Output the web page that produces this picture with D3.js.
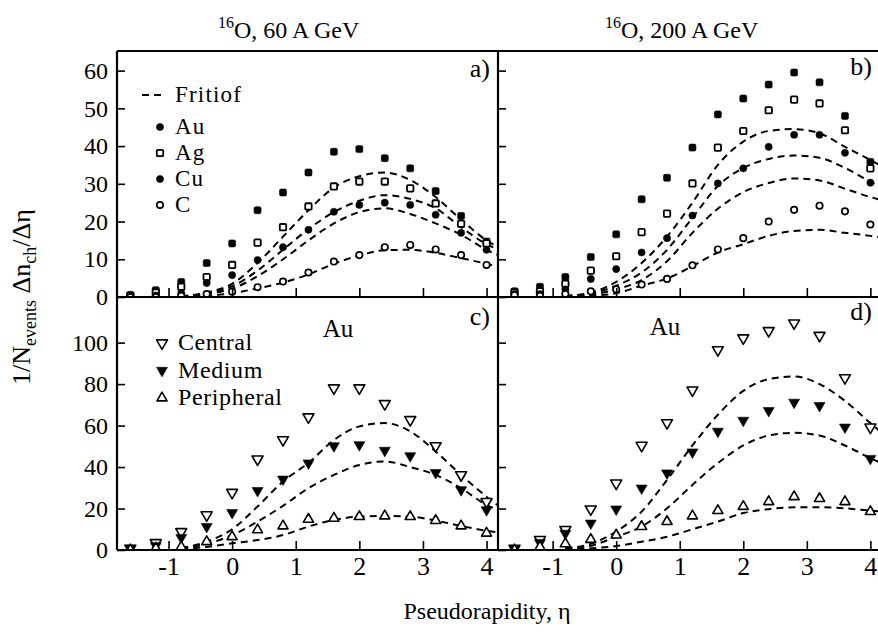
<!DOCTYPE html>
<html>
<head>
<meta charset="utf-8">
<script src="https://cdn.jsdelivr.net/npm/d3@7"></script>
<style>
  body { margin: 0; background: #fff; }
  svg { display: block; font-family: "Liberation Serif", "Times New Roman", serif; }
</style>
</head>
<body>
<svg id="chart" width="878" height="634"></svg>
<script>
// pseudorapidity bins of the measured points
const ETA = [-1.6, -1.2, -0.8, -0.4, 0, 0.4, 0.8, 1.2, 1.6, 2.0, 2.4, 2.8, 3.2, 3.6, 4.0];
// grid the Fritiof curves were read on
const FRIT_ETA = [-0.8, -0.4, 0, 0.4, 0.8, 1.2, 1.6, 2.0, 2.4, 2.8, 3.2, 3.6, 4.0, 4.2];

// a) 16O 60 A GeV, targets
const aAu = [0.5, 1.8, 4, 9, 14.2, 23, 27.7, 33, 38.5, 39.2, 36.8, 34.1, 28.1, 21.5, 14.7];
const aAg = [0.4, 1.2, 2.7, 5.3, 8.5, 14.4, 18.5, 24, 29.3, 30.6, 30.6, 28.8, 24.8, 19.4, 14.2];
const aCu = [0, 0.4, 1, 3.7, 5.8, 9.8, 13.2, 17.8, 22.6, 24.4, 25, 24.4, 21.8, 17, 12.5];
const aC  = [0, 0, 0.3, 0.8, 1.4, 2.6, 4.1, 6.5, 9.4, 11.1, 13.2, 13.8, 12.6, 11.1, 8.5];
const aFrit = [
  [0.2, 1.2, 3.5, 9, 16, 23, 29, 32, 33, 31, 26.5, 20.5, 15, 13],
  [0.1, 1, 2.8, 7, 12.5, 18, 22.5, 25.5, 27, 26, 23.5, 18.5, 14, 12.5],
  [0.1, 0.8, 2.2, 5.5, 10, 15, 19.5, 22.5, 23.5, 22, 19.5, 16.5, 12.5, 11],
  [0, 0.3, 1, 2.3, 3.8, 6, 8.8, 11, 12.4, 12.5, 11.7, 10.3, 8.8, 8]
];

// b) 16O 200 A GeV, targets
const bAu = [1.5, 2.7, 5.3, 10.6, 16.6, 25.9, 31.6, 39.6, 48.4, 52.6, 56.3, 59.5, 56.9, 48, 35.8];
const bAg = [1.2, 1.5, 3.5, 7, 10.8, 17.2, 22.1, 30.1, 39.6, 44, 49.5, 52.3, 51.3, 44.2, 34.1];
const bCu = [0.8, 0.8, 2, 4.8, 7.4, 11.8, 15.6, 21.6, 30.1, 34.1, 39.8, 43, 43, 38.2, 30.3];
const bC  = [0.5, 0.3, 0.8, 1.5, 2, 3.3, 4.8, 8.4, 12.6, 15.6, 20, 23.1, 24.2, 22.7, 19.2];
const bFrit = [
  [0.3, 1.2, 4, 9, 16, 25, 35, 41.2, 44, 44.5, 43.4, 39.8, 36.3, 34.5],
  [0.2, 0.9, 3, 6.5, 12.5, 21, 29.4, 34.2, 36.6, 37.5, 36.9, 34.2, 30.6, 29],
  [0.1, 0.6, 2, 4.5, 9.5, 17, 23.4, 27.8, 30.2, 31.4, 30.9, 28.7, 26.5, 25.6],
  [0, 0.3, 1, 3, 4.9, 8.2, 11.8, 14, 16.2, 17.5, 17.8, 17, 16.2, 15.7]
];

// c) Au target at 60 A GeV, centrality classes
const cCentral = [0.8, 3.5, 8.8, 16.9, 27.7, 43.8, 53.1, 64.1, 78.1, 78.1, 70.5, 62.8, 50.2, 36.2, 23.3];
const cMedium  = [0.8, 2, 6, 11.3, 18, 28.6, 34.1, 41.9, 50.2, 50.7, 48, 45.4, 37.3, 29, 19.3];
const cPeriph  = [0, 0.8, 1.5, 4, 6.4, 9.7, 11.6, 14.8, 15.3, 16.1, 16.4, 16.1, 14.2, 11.6, 8.1];
const cFrit = [
  [1, 4, 10, 21, 33, 42, 53, 59.6, 61.2, 57.2, 47.5, 36.2, 25.7, 21],
  [0.8, 3, 7.2, 13.7, 21.3, 29.8, 36.2, 41, 42.7, 40, 36.2, 29.8, 21.7, 19],
  [0.3, 1.5, 3.2, 4.8, 7.2, 11.3, 14.5, 16.1, 16.4, 16.1, 14.2, 11.6, 9.3, 8.5]
];

// d) Au target at 200 A GeV, centrality classes
const dCentral = [0.8, 5, 9.8, 19.7, 32.2, 50.4, 61.3, 77.1, 96.5, 102.2, 105.7, 109.4, 103.4, 83, 59.2];
const dMedium  = [0.5, 3.5, 8, 12.9, 19.7, 29.8, 37.1, 47.2, 57.2, 62.5, 67.2, 71.2, 69.6, 59.2, 44.1];
const dPeriph  = [0, 1.5, 3, 5.1, 7.2, 11.3, 13.7, 16.4, 19, 21, 23.3, 25.7, 24.8, 23.3, 18.5];
const dFrit = [
  [0.8, 3, 8.9, 18.5, 33.8, 50.4, 65.2, 76.7, 82.4, 83.7, 80, 71.9, 61.2, 56],
  [0.5, 2, 6.4, 11.3, 20.1, 31.4, 41.9, 50.4, 55.2, 56.5, 55.2, 50.4, 44.3, 41.5],
  [0.2, 0.8, 1.9, 4, 6.4, 10, 13.7, 17.8, 19.7, 20.6, 20.6, 20.1, 19, 18.5]
];

const X_TICKS = [-1, 0, 1, 2, 3, 4];
const Y_TICKS_TOP = [0, 10, 20, 30, 40, 50, 60];
const Y_TICKS_BOT = [0, 20, 40, 60, 80, 100];

const targetLegend = [['Au', 'fsq'], ['Ag', 'osq'], ['Cu', 'fci'], ['C', 'oci']];
const centLegend = [['Central', 'otd'], ['Medium', 'ftd'], ['Peripheral', 'otu']];

const svg = d3.select('#chart');

const xLeft = d3.scaleLinear().domain([-1.81, 4.18]).range([117, 498]);
const xRight = d3.scaleLinear().domain([-1.86, 4.12]).range([498, 878]);
const yTop = d3.scaleLinear().domain([0, 65.2]).range([297, 51]);
const yBot = d3.scaleLinear().domain([0, 122]).range([550, 297]);

const panels = [
  { id: 'a', x: xLeft, y: yTop, yTicks: Y_TICKS_TOP, xLabels: false, yLabels: true,
    series: [[aAu, 'fsq'], [aAg, 'osq'], [aCu, 'fci'], [aC, 'oci']], frit: aFrit },
  { id: 'b', x: xRight, y: yTop, yTicks: Y_TICKS_TOP, xLabels: false, yLabels: false,
    series: [[bAu, 'fsq'], [bAg, 'osq'], [bCu, 'fci'], [bC, 'oci']], frit: bFrit },
  { id: 'c', x: xLeft, y: yBot, yTicks: Y_TICKS_BOT, xLabels: true, yLabels: true,
    series: [[cCentral, 'otd'], [cMedium, 'ftd'], [cPeriph, 'otu']], frit: cFrit },
  { id: 'd', x: xRight, y: yBot, yTicks: Y_TICKS_BOT, xLabels: true, yLabels: false,
    series: [[dCentral, 'otd'], [dMedium, 'ftd'], [dPeriph, 'otu']], frit: dFrit }
];

function drawMarker(sel, kind) {
  if (kind === 'fsq' || kind === 'osq') {
    const s = kind === 'fsq' ? 7 : 6.4;
    sel.append('rect')
      .attr('x', -s / 2).attr('y', -s / 2).attr('width', s).attr('height', s)
      .attr('rx', kind === 'fsq' ? 1.6 : 1)
      .attr('fill', kind === 'fsq' ? '#000' : '#fff')
      .attr('stroke', '#000').attr('stroke-width', kind === 'fsq' ? 0.6 : 1.8);
    return;
  }
  if (kind === 'fci' || kind === 'oci') {
    sel.append('circle').attr('r', kind === 'fci' ? 3.6 : 3.2)
      .attr('fill', kind === 'fci' ? '#000' : '#fff')
      .attr('stroke', '#000').attr('stroke-width', kind === 'fci' ? 0.5 : 1.7);
    return;
  }
  const tri = d3.symbol().type(d3.symbolTriangle).size(kind === 'otu' ? 44 : 52)();
  sel.append('path').attr('d', tri)
    .attr('transform', kind === 'otu' ? null : 'rotate(180)')
    .attr('fill', kind === 'ftd' ? '#000' : '#fff')
    .attr('stroke', '#000').attr('stroke-width', kind === 'ftd' ? 0.6 : 1.6)
    .attr('stroke-linejoin', 'round');
}

panels.forEach(p => {
  const [x0, x1] = p.x.range();
  const [y0, y1] = p.y.range();
  const g = svg.append('g').attr('class', 'panel-' + p.id);

  g.append('clipPath').attr('id', 'clip-' + p.id)
    .append('rect').attr('x', x0).attr('y', y1).attr('width', x1 - x0).attr('height', y0 - y1);

  const body = g.append('g').attr('clip-path', `url(#clip-${p.id})`);

  const line = d3.line()
    .x((d, i) => p.x(FRIT_ETA[i]))
    .y(d => p.y(d))
    .curve(d3.curveMonotoneX);

  body.selectAll('path.frit').data(p.frit).enter().append('path')
    .attr('class', 'frit')
    .attr('d', line)
    .attr('fill', 'none').attr('stroke', '#000')
    .attr('stroke-width', 2).attr('stroke-dasharray', '7,5');

  p.series.forEach(([vals, kind]) => {
    body.append('g').selectAll('g').data(vals).enter().append('g')
      .attr('transform', (d, i) => `translate(${p.x(ETA[i])},${p.y(d)})`)
      .each(function () { drawMarker(d3.select(this), kind); });
  });

  // x axis, ticks pointing up into the plot
  const xAxis = d3.axisBottom(p.x).tickValues(X_TICKS).tickSize(-9).tickSizeOuter(0).tickPadding(7)
    .tickFormat(d => p.xLabels ? (d < 0 ? '-' + Math.abs(d) : String(d)) : '');
  const gx = g.append('g').attr('transform', `translate(0,${y0})`).call(xAxis);
  gx.select('.domain').remove();
  gx.selectAll('line').attr('stroke-width', 1.6);
  gx.selectAll('text').attr('font-size', 26).attr('fill', '#000')
    .attr('font-family', '"Liberation Serif", serif');

  // y axis, ticks pointing right into the plot
  const yAxis = d3.axisLeft(p.y).tickValues(p.yTicks).tickSize(-8).tickSizeOuter(0).tickPadding(9)
    .tickFormat(d => p.yLabels ? String(d) : '');
  const gy = g.append('g').attr('transform', `translate(${x0},0)`).call(yAxis);
  gy.select('.domain').remove();
  gy.selectAll('line').attr('stroke-width', 1.6);
  gy.selectAll('text').attr('font-size', 24).attr('fill', '#000')
    .attr('font-family', '"Liberation Serif", serif');
});

// frame lines
const frame = svg.append('g').attr('stroke', '#000').attr('stroke-width', 2.2).attr('fill', 'none');
frame.append('line').attr('x1', 117).attr('x2', 878).attr('y1', 51).attr('y2', 51);
frame.append('line').attr('x1', 117).attr('x2', 878).attr('y1', 297).attr('y2', 297);
frame.append('line').attr('x1', 117).attr('x2', 878).attr('y1', 550).attr('y2', 550);
frame.append('line').attr('x1', 117).attr('x2', 117).attr('y1', 51).attr('y2', 550);
frame.append('line').attr('x1', 498).attr('x2', 498).attr('y1', 51).attr('y2', 550);

// panel tags
const tags = [['a)', 490, 77], ['b)', 872, 75], ['c)', 490, 325], ['d)', 872, 320]];
svg.append('g').selectAll('text').data(tags).enter().append('text')
  .attr('x', d => d[1]).attr('y', d => d[2])
  .attr('text-anchor', 'end').attr('font-size', 26)
  .text(d => d[0]);

// "Au" labels of the lower panels
svg.append('text').attr('x', 338).attr('y', 337).attr('text-anchor', 'middle').attr('font-size', 25).text('Au');
svg.append('text').attr('x', 665).attr('y', 335).attr('text-anchor', 'middle').attr('font-size', 25).text('Au');

// legend, top-left panel
const legA = svg.append('g');
legA.append('line').attr('x1', 142).attr('x2', 166).attr('y1', 95).attr('y2', 95)
  .attr('stroke', '#000').attr('stroke-width', 2).attr('stroke-dasharray', '7,5');
legA.append('text').attr('x', 175).attr('y', 102).attr('font-size', 23).attr('letter-spacing', 1.2).text('Fritiof');
targetLegend.forEach(([name, kind], i) => {
  const cy = 127 + i * 26;
  const mk = legA.append('g').attr('transform', `translate(160,${cy})`);
  drawMarker(mk, kind === 'fsq' ? 'fci' : kind);
  legA.append('text').attr('x', 175).attr('y', cy + 7).attr('font-size', 23)
    .attr('letter-spacing', 1.2).text(name);
});

// legend, bottom-left panel
const legC = svg.append('g');
centLegend.forEach(([name, kind], i) => {
  const cy = 343 + i * 27.5;
  const mk = legC.append('g').attr('transform', `translate(162,${cy})`);
  drawMarker(mk, kind);
  legC.append('text').attr('x', 178).attr('y', cy + 7).attr('font-size', 24)
    .attr('letter-spacing', 0.6).text(name);
});

// titles
const titles = [['O, 60 A GeV', 218], ['O, 200 A GeV', 605]];
titles.forEach(([t, x]) => {
  const tx = svg.append('text').attr('x', x).attr('y', 38).attr('font-size', 24);
  tx.append('tspan').attr('font-size', 16).attr('dy', -10).text('16');
  tx.append('tspan').attr('dy', 10).text(t);
});

// axis titles
svg.append('text').attr('x', 487).attr('y', 619).attr('text-anchor', 'middle').attr('font-size', 24)
  .text('Pseudorapidity,  \u03b7');

const yt = svg.append('text').attr('transform', 'translate(30,297) rotate(-90)')
  .attr('text-anchor', 'middle').attr('font-size', 26);
yt.append('tspan').text('1/N');
yt.append('tspan').attr('font-size', 18).attr('dy', 6).text('events');
yt.append('tspan').attr('dy', -6).text('  \u0394n');
yt.append('tspan').attr('font-size', 18).attr('dy', 6).text('ch');
yt.append('tspan').attr('dy', -6).text('/\u0394\u03b7');
</script>
</body>
</html>
